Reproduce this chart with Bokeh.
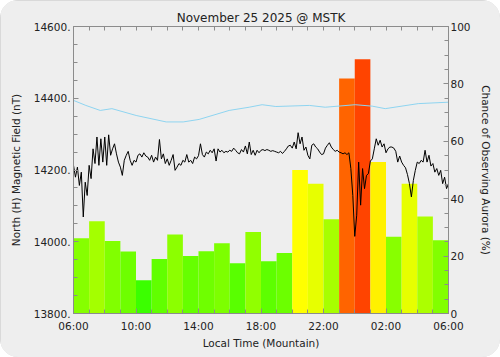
import numpy as np
from bokeh.plotting import figure
from bokeh.models import Range1d, LinearAxis, FixedTicker, ColumnDataSource
from bokeh.embed import file_html
from bokeh.resources import INLINE

# Hourly chance of observing aurora (%), 06:00 local -> 06:00 next day
hour_start = list(range(24))
aurora_pct = [26.2, 32.1, 25.3, 21.6, 11.6, 19.0, 27.5, 20.0, 21.7, 24.5, 17.5, 28.4,
              18.2, 21.1, 50.0, 45.2, 32.8, 81.9, 88.6, 52.8, 26.7, 45.2, 33.8, 25.5]

# North (H) component, one sample every 7.5 minutes from 06:00 (nT)
h_step_hours = 0.125
h_field = [
    14213, 14180, 14208, 14157, 14194, 14069, 14166, 14129, 14213, 14176,
    14259, 14218, 14292, 14213, 14287, 14222, 14292, 14213, 14298, 14241,
    14259, 14273, 14245, 14222, 14208, 14185, 14227, 14241, 14252, 14227,
    14213, 14227, 14222,
    14241, 14245, 14236, 14248, 14239, 14236, 14227, 14241, 14222, 14236,
    14227, 14285, 14231, 14245, 14218, 14231, 14213, 14227, 14243, 14199,
    14208, 14218, 14213, 14227, 14222, 14243, 14222, 14227, 14218, 14236,
    14231, 14240,
    14273, 14243, 14236, 14250, 14245, 14255, 14248, 14259, 14225, 14259,
    14250, 14255, 14248, 14252, 14250, 14255, 14252, 14261, 14255, 14248,
    14245, 14257, 14250, 14267, 14245, 14278, 14243, 14255, 14241, 14255,
    14248, 14255,
    14257, 14254, 14257, 14255, 14252, 14254, 14252, 14250, 14248, 14252,
    14246, 14252, 14259, 14267, 14269, 14261, 14278, 14259, 14304, 14273,
    14292, 14255, 14264, 14241, 14231, 14269, 14273, 14264, 14259, 14250,
    14243, 14245,
    14261, 14269, 14276, 14264, 14257, 14252, 14255, 14250, 14248, 14245,
    14248, 14243, 14248, 14204, 14129, 14015, 14074, 14222, 14102, 14204,
    14148, 14185, 14190, 14225, 14231, 14259, 14287, 14269, 14283, 14264,
    14273, 14248,
    14259, 14264, 14264, 14261, 14252, 14222, 14239, 14222, 14213, 14206,
    14187, 14162, 14125, 14171, 14199, 14222, 14218, 14227, 14222, 14255,
    14222, 14241, 14211, 14218, 14194, 14204, 14185, 14199, 14162, 14180,
    14148, 14162,
]

# Quiet-day reference curve (hours after 06:00, nT)
base_hours = [0.00, 0.79, 1.71, 2.46, 4.01, 5.93, 7.02, 8.04, 9.96, 11.24,
              12.07, 12.95, 15.09, 16.11, 18.03, 19.12, 19.95, 22.06, 24.0]
base_nt = [14394, 14380, 14366, 14371, 14352, 14334, 14334, 14341, 14366, 14375,
           14382, 14377, 14380, 14375, 14382, 14378, 14371, 14385, 14389]

# Axis ticks
x_ticks = [0, 4, 8, 12, 16, 20, 24]
x_tick_labels = ["06:00", "10:00", "14:00", "18:00", "22:00", "02:00", "06:00"]
left_ticks = [13800, 14000, 14200, 14400, 14600]
left_tick_labels = ["13800.", "14000.", "14200.", "14400.", "14600."]
right_ticks = [0, 20, 40, 60, 80, 100]
right_tick_labels = ["0", "20", "40", "60", "80", "100"]

FONT = "DejaVu Sans"
TEXT = "#222222"
AXIS = "#8c8c8c"
BG = "#eeeeee"


def pct_color(v):
    """green -> yellow -> red ramp for the aurora probability"""
    if v <= 50:
        r, g = 255 * v / 50.0, 255
    else:
        r, g = 255, max(0.0, 255 - 4.85 * (v - 50))
    return "#%02x%02x00" % (int(round(r)), int(round(g)))


bars = ColumnDataSource(dict(
    x=[h + 0.5 for h in hour_start],
    top=aurora_pct,
    color=[pct_color(v) for v in aurora_pct],
))
trace = ColumnDataSource(dict(
    t=np.arange(len(h_field)) * h_step_hours,
    h=h_field,
))

p = figure(width=500, height=357, output_backend="svg", toolbar_location=None,
           x_range=Range1d(0, 24), y_range=Range1d(13800, 14600),
           x_axis_location=None, y_axis_location=None,
           min_border_left=73, min_border_right=52,
           min_border_top=26, min_border_bottom=44,
           background_fill_color=BG, border_fill_color=BG)
p.extra_y_ranges = {"pct": Range1d(0, 100)}
p.grid.visible = False
p.outline_line_color = None

p.title.text = "November 25 2025 @ MSTK"
p.title.align = "center"
p.title.text_font = FONT
p.title.text_font_size = "12px"
p.title.text_font_style = "normal"
p.title.text_color = TEXT
p.title.standoff = 4

p.vbar(x="x", top="top", bottom=0, width=1, source=bars, y_range_name="pct",
       fill_color="color", line_color=None)
p.line(base_hours, base_nt, line_color="#8ed4f0", line_width=1)
p.line("t", "h", source=trace, line_color="black", line_width=1)


def style(ax, size="10px"):
    ax.axis_line_color = AXIS
    ax.major_tick_line_color = AXIS
    ax.minor_tick_line_color = AXIS
    ax.major_tick_in = 5
    ax.major_tick_out = 0
    ax.minor_tick_in = 4
    ax.minor_tick_out = 0
    ax.major_label_text_font = FONT
    ax.major_label_text_font_size = size
    ax.major_label_text_color = TEXT
    ax.axis_label_text_font = FONT
    ax.axis_label_text_font_size = "10.5px"
    ax.axis_label_text_font_style = "normal"
    ax.axis_label_text_color = TEXT


x_ticker = FixedTicker(ticks=x_ticks, minor_ticks=list(range(25)))

xb = LinearAxis(ticker=x_ticker, axis_label="Local Time (Mountain)",
                major_label_overrides=dict(zip(x_ticks, x_tick_labels)))
style(xb, size="10.5px")
xb.major_label_standoff = 6
xb.axis_label_standoff = 2
p.add_layout(xb, "below")

# top frame edge: hourly ticks only, no labels
xt = LinearAxis(ticker=FixedTicker(ticks=[], minor_ticks=list(range(25))))
style(xt)
p.add_layout(xt, "above")

yl = LinearAxis(ticker=FixedTicker(ticks=left_ticks, minor_ticks=list(range(13800, 14601, 50))),
                axis_label="North (H) Magnetic Field (nT)",
                major_label_overrides=dict(zip(left_ticks, left_tick_labels)))
style(yl, size="10.5px")
yl.major_label_standoff = 3
yl.axis_label_standoff = 9
p.add_layout(yl, "left")

yr = LinearAxis(y_range_name="pct",
                ticker=FixedTicker(ticks=right_ticks, minor_ticks=list(range(0, 101, 5))),
                axis_label="Chance of Observing Aurora (%)",
                major_label_overrides=dict(zip(right_ticks, right_tick_labels)))
style(yr, size="10.5px")
yr.major_label_standoff = 2
yr.axis_label_standoff = 6
p.add_layout(yr, "right")

p.styles = {"border-radius": "18px", "overflow": "hidden",
            "outline": "1px solid #d2d2d2", "outline-offset": "-1px"}

open("out.html", "w").write(file_html(p, INLINE))
